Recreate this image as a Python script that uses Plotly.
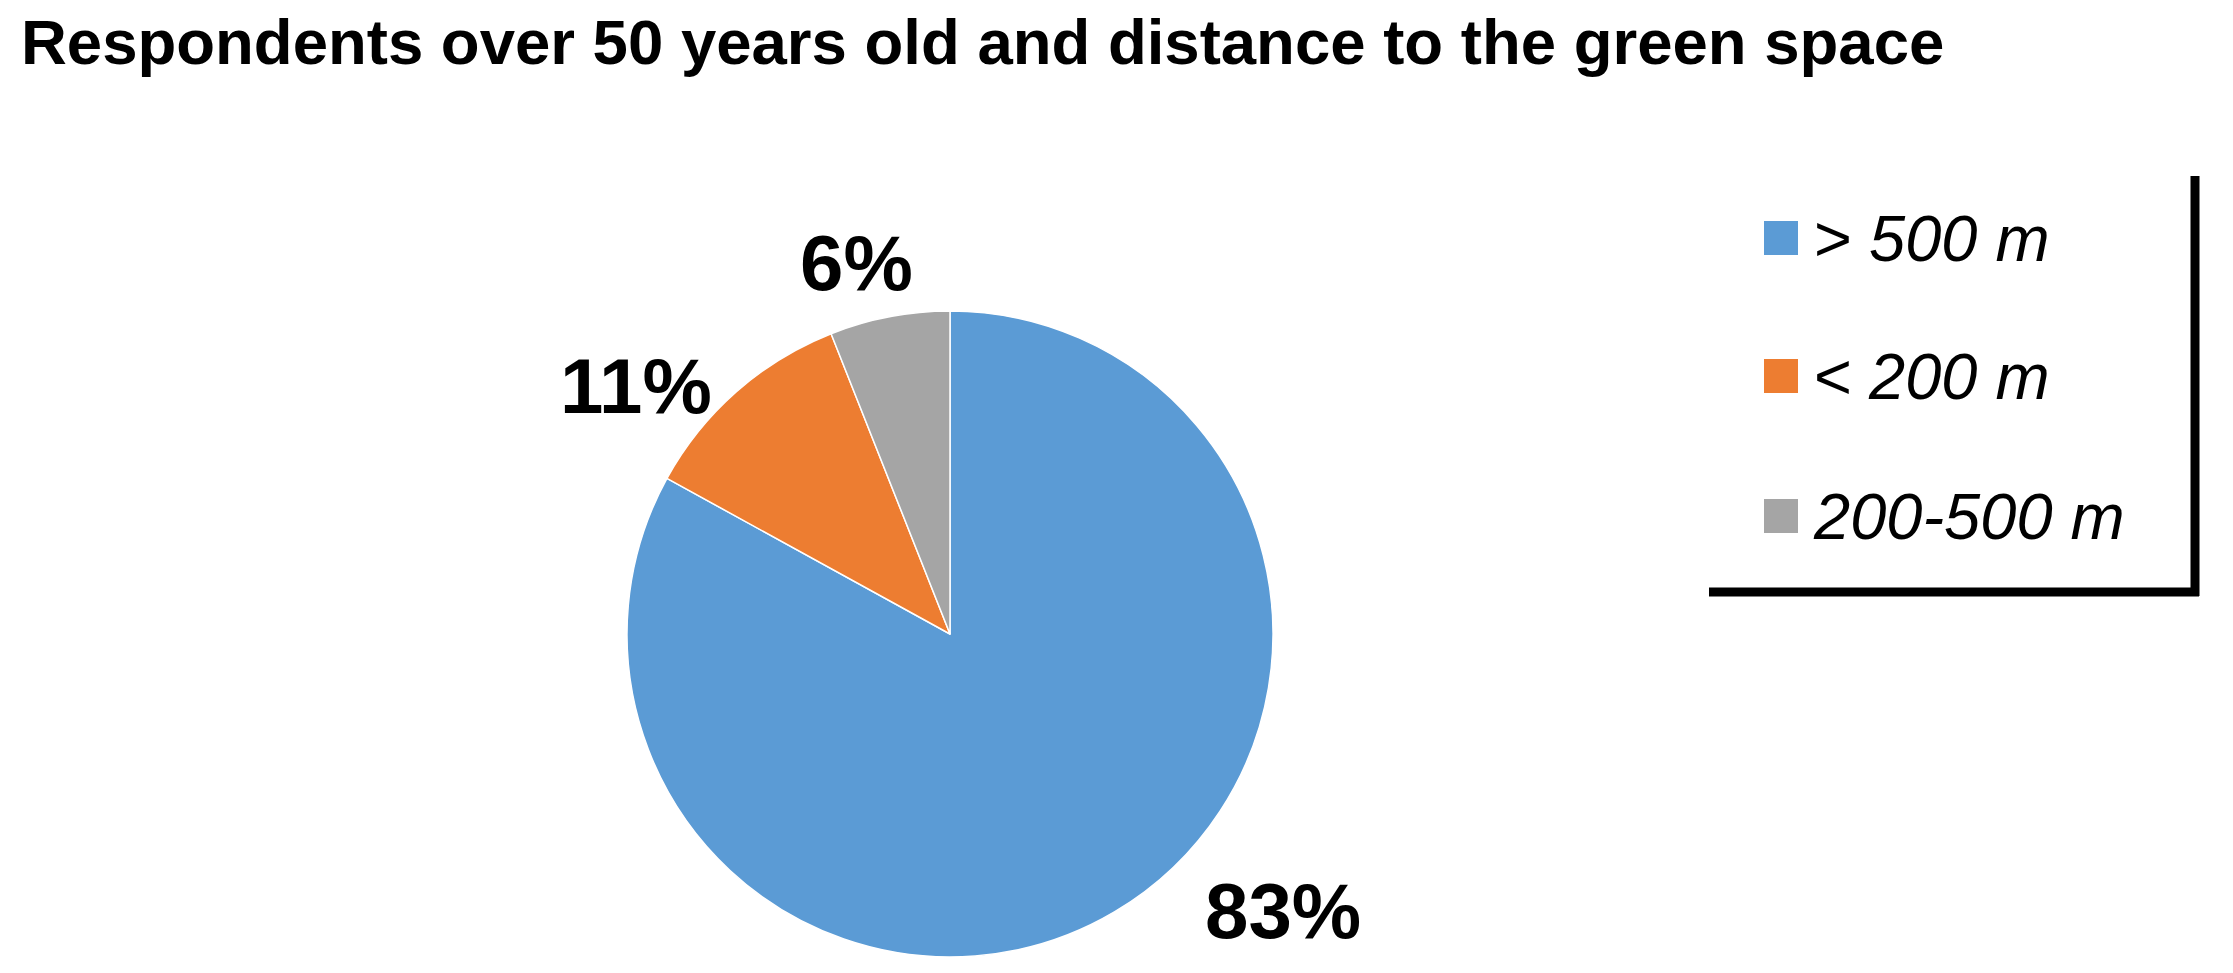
import plotly.graph_objects as go

W, H = 2233, 973

title = "Respondents over 50 years old and distance to the green space"
labels = ["> 500 m", "< 200 m", "200-500 m"]
values = [83, 11, 6]
colors = ["#5B9BD5", "#ED7D31", "#A5A5A5"]

# pixel positions of the percentage labels (centre of text)
label_pos = [(1275, 903), (628, 378), (848, 255)]

FONT = "Liberation Sans, Arial, sans-serif"


def px(x):
    return x / W


def py(y):
    return 1 - y / H


fig = go.Figure()
fig.add_trace(go.Pie(
    labels=labels,
    values=values,
    sort=False,
    direction="clockwise",
    rotation=0,
    marker=dict(colors=colors, line=dict(color="white", width=1.5)),
    textinfo="none",
    hoverinfo="label+percent",
    showlegend=False,
    domain=dict(x=[px(942 - 323), px(942 + 323)],
                y=[py(626 + 323), py(626 - 323)]),
))

annotations = []
for v, (x, y) in zip(values, label_pos):
    annotations.append(dict(
        text=f"{v}%", x=px(x), y=py(y), xref="paper", yref="paper",
        xanchor="center", yanchor="middle", showarrow=False,
        font=dict(family=FONT, size=78, color="black", weight=700),
    ))

# legend drawn by hand so the swatches can be as large as in the original
shapes = []
row_y = [230, 368, 508]
for lab, col, y in zip(labels, colors, row_y):
    shapes.append(dict(type="rect", xref="paper", yref="paper",
                       x0=px(1756), x1=px(1790), y0=py(y + 17), y1=py(y - 17),
                       fillcolor=col, line=dict(width=0)))
    annotations.append(dict(
        text=lab, x=px(1803), y=py(y), xref="paper", yref="paper",
        xanchor="left", yanchor="middle", showarrow=False,
        font=dict(family=FONT, size=65, color="black", style="italic"),
    ))

# right and bottom edges of the legend box
shapes.append(dict(type="line", xref="paper", yref="paper",
                   x0=px(2187), x1=px(2187), y0=py(168), y1=py(588),
                   line=dict(color="black", width=9)))
shapes.append(dict(type="line", xref="paper", yref="paper",
                   x0=px(1701), x1=px(2191), y0=py(584), y1=py(584),
                   line=dict(color="black", width=9)))

fig.update_layout(
    width=W, height=H,
    margin=dict(l=0, r=0, t=0, b=0),
    paper_bgcolor="white",
    plot_bgcolor="white",
    title=dict(text=title, x=px(13), xanchor="left", xref="paper",
               y=py(12), yanchor="top", yref="container",
               font=dict(family=FONT, size=63.5, color="black", weight=700)),
    annotations=annotations,
    shapes=shapes,
)

fig.write_html("out.html")
